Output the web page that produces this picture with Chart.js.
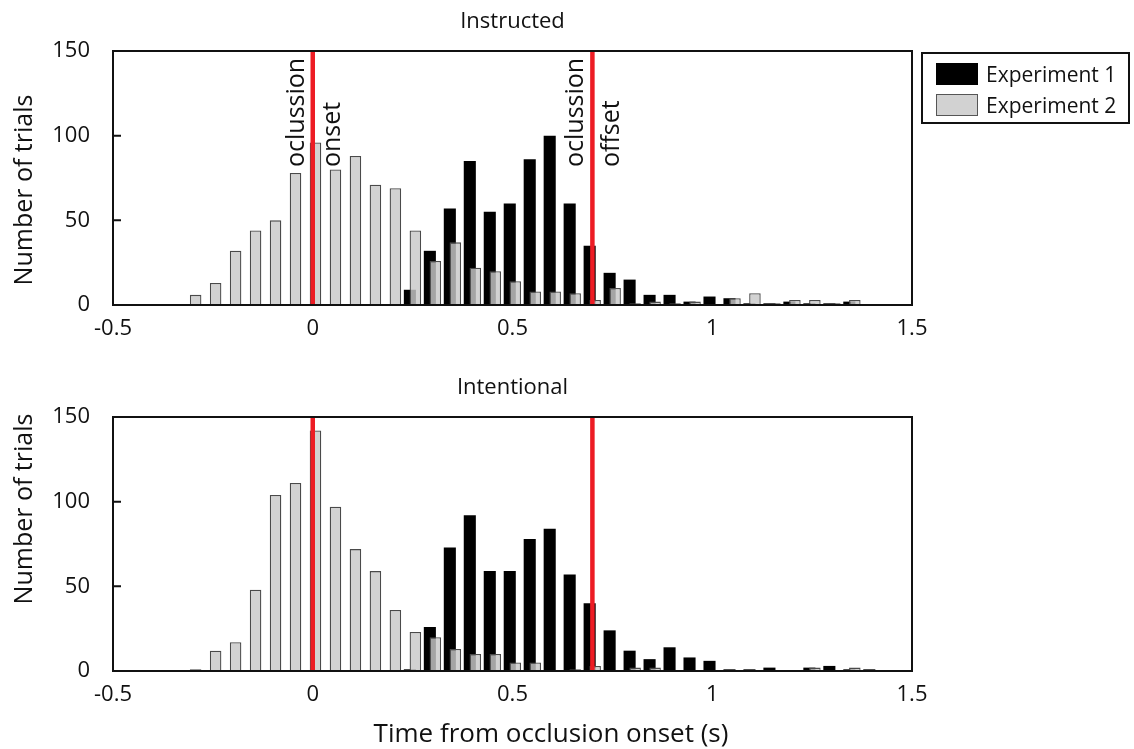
<!DOCTYPE html>
<html lang="en">
<head>
<meta charset="UTF-8">
<title>Response times relative to occlusion</title>
<script src="https://cdn.jsdelivr.net/npm/chart.js@4"></script>
<style>
  body { margin: 0; background: #fff; font-family: 'Open Sans', sans-serif; color: #111; }
  #wrap { position: relative; width: 1134px; height: 749px; }
  .panel { position: absolute; left: 0; width: 1134px; }
  #panelTop { top: 0; height: 345px; }
  #panelBottom { top: 366px; height: 383px; }
  .legend { position: absolute; left: 921px; top: 52px; width: 205px; height: 68px; border: 2px solid #111; font-size: 21px; }
  .legend .row { position: absolute; left: 13px; height: 24px; display: flex; align-items: center; }
  .legend .sw { width: 42px; height: 22px; box-sizing: border-box; margin-right: 8px; }
  .legend .exp1 { background: #000; }
  .legend .exp2 { background: #d2d2d2; border: 1.5px solid #555; }
</style>
</head>
<body>
<div id="wrap">
  <div class="panel" id="panelTop"><canvas id="chartInstructed"></canvas></div>
  <div class="panel" id="panelBottom"><canvas id="chartIntentional"></canvas></div>
  <div class="legend">
    <div class="row" style="top:8px"><div class="sw exp1"></div>Experiment 1</div>
    <div class="row" style="top:39px"><div class="sw exp2"></div>Experiment 2</div>
  </div>
</div>

<script>
// histogram bins (s, bin centres)
const bins = [-0.3, -0.25, -0.2, -0.15, -0.1, -0.05, 0, 0.05, 0.1, 0.15, 0.2, 0.25,
  0.3, 0.35, 0.4, 0.45, 0.5, 0.55, 0.6, 0.65, 0.7, 0.75, 0.8, 0.85, 0.9, 0.95,
  1, 1.05, 1.1, 1.15, 1.2, 1.25, 1.3, 1.35, 1.4];

const instructedExp1 = [0, 0, 0, 0, 0, 0, 0, 0, 0, 0, 0, 9,
  32, 57, 85, 55, 60, 86, 100, 60, 35, 19, 15, 6, 6, 2,
  5, 4, 1, 1, 2, 1, 1, 2, 0];
const instructedExp2 = [6, 13, 32, 44, 50, 78, 96, 80, 88, 71, 69, 44,
  26, 37, 22, 20, 14, 8, 8, 7, 3, 10, 1, 2, 1, 2,
  0, 4, 7, 1, 3, 3, 1, 3, 0];

const intentionalExp1 = [0, 0, 0, 0, 0, 0, 0, 0, 0, 0, 0, 1,
  26, 73, 92, 59, 59, 78, 84, 57, 40, 24, 12, 7, 14, 8,
  6, 1, 1, 2, 0, 2, 3, 1, 1];
const intentionalExp2 = [1, 12, 17, 48, 104, 111, 142, 97, 72, 59, 36, 23,
  20, 13, 10, 10, 5, 5, 0, 1, 3, 0, 2, 2, 0, 0,
  0, 0, 0, 0, 0, 2, 0, 2, 0];

const xTicks = [-0.5, 0, 0.5, 1, 1.5];
const yTicks = [0, 50, 100, 150];
const occlusionTimes = [0, 0.7];
const occlusionLabels = [['oclussion', 'onset'], ['oclussion', 'offset']];

Chart.defaults.font.family = "'Open Sans', sans-serif";
Chart.defaults.color = '#111';

const toPoints = vals => bins.map((b, i) => ({ x: b, y: vals[i] }));

// draw black first, then grey on top, then the red markers
const layering = {
  id: 'layering',
  beforeDatasetDraw: () => false,
  afterDatasetsDraw(chart) {
    const a = chart.chartArea, ctx = chart.ctx;
    ctx.save();
    ctx.beginPath();
    ctx.rect(a.left, a.top - 2, a.right - a.left, a.bottom - a.top + 2);
    ctx.clip();
    chart.getSortedVisibleDatasetMetas().forEach(m => m.controller.draw());
    ctx.restore();
  }
};

function rotatedText(ctx, txt, x, y, align) {
  ctx.save();
  ctx.translate(x, y);
  ctx.rotate(-Math.PI / 2);
  ctx.textAlign = align;
  ctx.fillText(txt, 0, 0);
  ctx.restore();
}

// box round the plot, inward ticks, titles and the rotated marker labels
const frame = {
  id: 'frame',
  afterDraw(chart, args, opts) {
    const a = chart.chartArea, ctx = chart.ctx;
    const ys = chart.scales.y, xs = chart.scales.x;
    ctx.save();
    ctx.strokeStyle = '#111';
    ctx.lineWidth = 2;
    ctx.strokeRect(a.left, a.top, a.right - a.left, a.bottom - a.top);
    ctx.beginPath();
    yTicks.slice(1, -1).forEach(v => {
      const y = ys.getPixelForValue(v);
      ctx.moveTo(a.left, y);
      ctx.lineTo(a.left + 8, y);
    });
    ctx.stroke();

    ctx.fillStyle = '#111';
    ctx.textBaseline = 'middle';

    // panel title
    ctx.font = "22px 'Open Sans'";
    ctx.textAlign = 'center';
    ctx.fillText(opts.title, (a.left + a.right) / 2, a.top - 29);

    // y axis title
    ctx.font = "25px 'Open Sans'";
    rotatedText(ctx, 'Number of trials', 25, a.top + opts.yTitleShift, 'center');

    // x axis title
    if (opts.xTitle) {
      ctx.font = "26px 'Open Sans'";
      ctx.textAlign = 'center';
      ctx.fillText(opts.xTitle, a.left + 438, a.bottom + 64);
    }

    if (opts.labels) {
      ctx.font = "25px 'Open Sans'";
      ctx.textBaseline = 'alphabetic';
      occlusionTimes.forEach((t, i) => {
        const x = xs.getPixelForValue(t);
        const [before, after] = occlusionLabels[i];
        rotatedText(ctx, before, x - 9, a.top + 116, 'left');
        rotatedText(ctx, after, x + 27, a.top + 116, 'left');
      });
    }
    ctx.restore();
  }
};

function makePanel(id, frameOpts, exp1, exp2, xHeight) {
  const redLines = occlusionTimes.map(t => ({
    type: 'line',
    data: [{ x: t, y: 0 }, { x: t, y: 150 }],
    borderColor: '#ed1c24',
    borderWidth: 4.5,
    pointRadius: 0
  }));

  return new Chart(document.getElementById(id), {
    type: 'bar',
    data: {
      datasets: [
        {
          label: 'Experiment 1',
          data: toPoints(exp1),
          backgroundColor: '#000',
          borderWidth: 0,
          categoryPercentage: 0.55,
          barPercentage: 2.2
        },
        {
          label: 'Experiment 2',
          data: toPoints(exp2),
          backgroundColor: 'rgba(200,200,200,0.82)',
          borderColor: '#4a4a4a',
          borderWidth: 1.3,
          categoryPercentage: 0.55,
          barPercentage: 2.1
        },
        ...redLines
      ]
    },
    options: {
      responsive: true,
      maintainAspectRatio: false,
      animation: false,
      layout: { padding: { left: 0, right: 222, top: 51, bottom: 0 } },
      plugins: {
        legend: { display: false },
        tooltip: { enabled: false },
        title: { display: false },
        frame: frameOpts
      },
      scales: {
        x: {
          type: 'linear',
          min: -0.5,
          max: 1.5,
          offset: false,
          grid: { display: false, offset: false },
          border: { display: false },
          ticks: {
            padding: 3,
            font: { size: 22 },
            color: '#111',
            maxRotation: 0,
            autoSkip: false,
            callback: v => String(v)
          },
          afterBuildTicks: s => { s.ticks = xTicks.map(v => ({ value: v })); },
          afterFit: s => { s.height = xHeight; }
        },
        y: {
          min: 0,
          max: 150,
          grid: { display: false },
          border: { display: false },
          ticks: { stepSize: 50, padding: 15, font: { size: 22 }, color: '#111' },
          afterFit: s => { s.width = 113; }
        }
      }
    },
    plugins: [layering, frame]
  });
}

makePanel('chartInstructed',
  { title: 'Instructed', yTitleShift: 139, labels: true },
  instructedExp1, instructedExp2, 40);
makePanel('chartIntentional',
  { title: 'Intentional', yTitleShift: 92, xTitle: 'Time from occlusion onset (s)' },
  intentionalExp1, intentionalExp2, 78);
</script>
</body>
</html>
